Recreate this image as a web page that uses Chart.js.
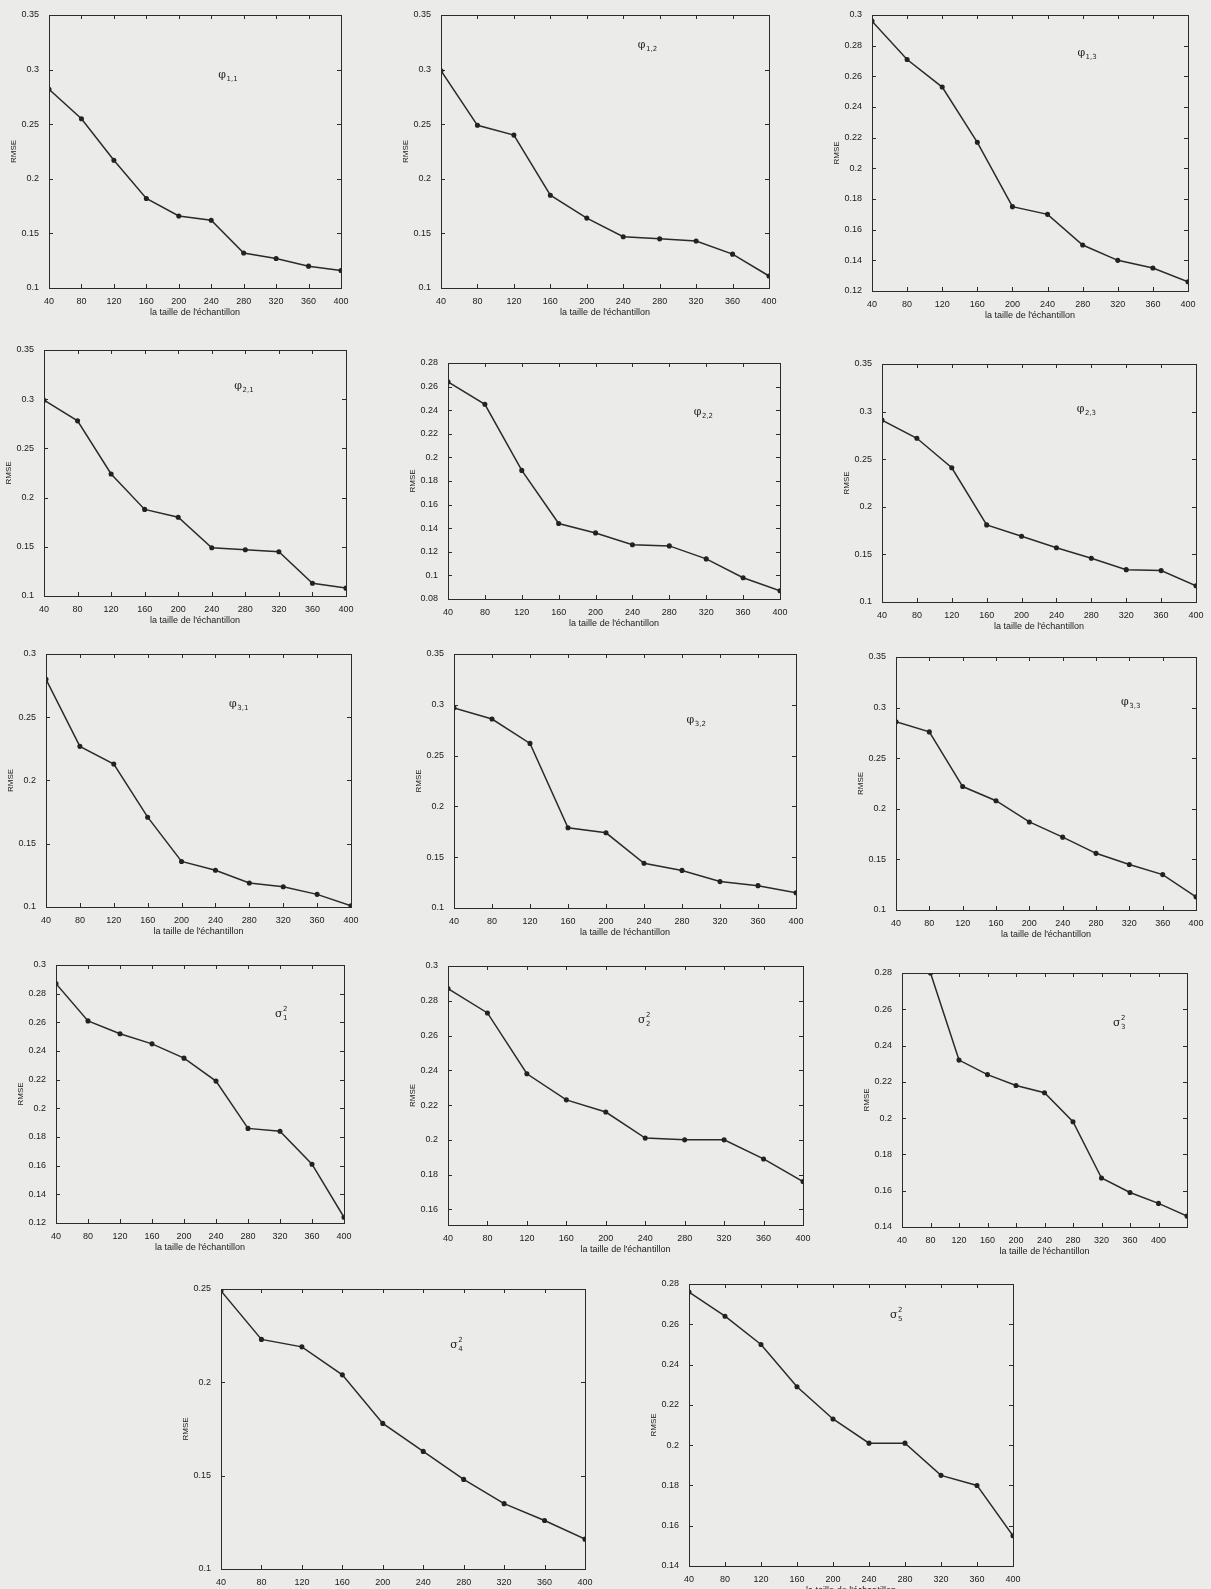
<!DOCTYPE html>
<html>
<head>
<meta charset="utf-8">
<title>RMSE vs taille de l'échantillon</title>
<script src="https://cdn.jsdelivr.net/npm/chart.js@4.4.1/dist/chart.umd.min.js"></script>
<style>
    html, body {
        margin: 0;
        padding: 0;
        width: 1211px;
        height: 1589px;
        overflow: hidden;
        background: #ebebea;
    }
    .panel {
        position: absolute;
    }
</style>
</head>
<body>
<div id="page"></div>
<script>
// sample sizes (x axis)
const sampleSizes = [40, 80, 120, 160, 200, 240, 280, 320, 360, 400];

// RMSE values
const rmsePhi11 = [0.282, 0.255, 0.217, 0.182, 0.166, 0.162, 0.132, 0.127, 0.120, 0.116];
const rmsePhi12 = [0.299, 0.249, 0.240, 0.185, 0.164, 0.147, 0.145, 0.143, 0.131, 0.111];
const rmsePhi13 = [0.296, 0.271, 0.253, 0.217, 0.175, 0.170, 0.150, 0.140, 0.135, 0.126];
const rmsePhi21 = [0.299, 0.278, 0.224, 0.188, 0.180, 0.149, 0.147, 0.145, 0.113, 0.108];
const rmsePhi22 = [0.264, 0.245, 0.189, 0.144, 0.136, 0.126, 0.125, 0.114, 0.098, 0.087];
const rmsePhi23 = [0.291, 0.272, 0.241, 0.181, 0.169, 0.157, 0.146, 0.134, 0.133, 0.117];
const rmsePhi31 = [0.280, 0.227, 0.213, 0.171, 0.136, 0.129, 0.119, 0.116, 0.110, 0.101];
const rmsePhi32 = [0.297, 0.286, 0.262, 0.179, 0.174, 0.144, 0.137, 0.126, 0.122, 0.115];
const rmsePhi33 = [0.286, 0.276, 0.222, 0.208, 0.187, 0.172, 0.156, 0.145, 0.135, 0.113];
const rmseSigma1 = [0.287, 0.261, 0.252, 0.245, 0.235, 0.219, 0.186, 0.184, 0.161, 0.124];
const rmseSigma2 = [0.287, 0.273, 0.238, 0.223, 0.216, 0.201, 0.200, 0.200, 0.189, 0.176];
const rmseSigma3 = [0.280, 0.232, 0.224, 0.218, 0.214, 0.198, 0.167, 0.159, 0.153, 0.146];
const rmseSigma4 = [0.249, 0.223, 0.219, 0.204, 0.178, 0.163, 0.148, 0.135, 0.126, 0.116];
const rmseSigma5 = [0.276, 0.264, 0.250, 0.229, 0.213, 0.201, 0.201, 0.185, 0.180, 0.155];

// y tick labels
const ticks010to035 = [0.1, 0.15, 0.2, 0.25, 0.3, 0.35];
const ticks010to030 = [0.1, 0.15, 0.2, 0.25, 0.3];
const ticks012to030 = [0.12, 0.14, 0.16, 0.18, 0.2, 0.22, 0.24, 0.26, 0.28, 0.3];
const ticks008to028 = [0.08, 0.1, 0.12, 0.14, 0.16, 0.18, 0.2, 0.22, 0.24, 0.26, 0.28];
const ticks016to030 = [0.16, 0.18, 0.2, 0.22, 0.24, 0.26, 0.28, 0.3];
const ticks014to028 = [0.14, 0.16, 0.18, 0.2, 0.22, 0.24, 0.26, 0.28];
const ticks010to025 = [0.1, 0.15, 0.2, 0.25];

// x tick labels (one panel has its labels shifted one step to the left)
const xTickLabels = ['40', '80', '120', '160', '200', '240', '280', '320', '360', '400'];
const shiftedXTickValues = [0, 40, 80, 120, 160, 200, 240, 280, 320, 360];

const X_TITLE = 'la taille de l\'échantillon';
const Y_TITLE = 'RMSE';
const AXIS_LEFT = 40;
const AXIS_BOTTOM = 30;
const PAD = 8;

// box = plot area [left, top, right, bottom], note = label position as fraction of plot area
const panels = [
    { values: rmsePhi11, yTicks: ticks010to035, sym: 'φ', sub: '1,1', box: [49, 15, 341, 288], note: [0.58, 0.23] },
    { values: rmsePhi12, yTicks: ticks010to035, sym: 'φ', sub: '1,2', box: [441, 15, 769, 288], note: [0.60, 0.12] },
    { values: rmsePhi13, yTicks: ticks012to030, sym: 'φ', sub: '1,3', box: [872, 15, 1188, 291], note: [0.65, 0.15] },
    { values: rmsePhi21, yTicks: ticks010to035, sym: 'φ', sub: '2,1', box: [44, 350, 346, 596], note: [0.63, 0.16] },
    { values: rmsePhi22, yTicks: ticks008to028, sym: 'φ', sub: '2,2', box: [448, 363, 780, 599], note: [0.74, 0.22] },
    { values: rmsePhi23, yTicks: ticks010to035, sym: 'φ', sub: '2,3', box: [882, 364, 1196, 602], note: [0.62, 0.20] },
    { values: rmsePhi31, yTicks: ticks010to030, sym: 'φ', sub: '3,1', box: [46, 654, 351, 907], note: [0.60, 0.21] },
    { values: rmsePhi32, yTicks: ticks010to035, sym: 'φ', sub: '3,2', box: [454, 654, 796, 908], note: [0.68, 0.27] },
    { values: rmsePhi33, yTicks: ticks010to035, sym: 'φ', sub: '3,3', box: [896, 657, 1196, 910], note: [0.75, 0.19] },
    { values: rmseSigma1, yTicks: ticks012to030, sym: 'σ', sup: '2', sub: '1', box: [56, 965, 344, 1223], note: [0.76, 0.20] },
    { values: rmseSigma2, yTicks: ticks016to030, yMin: 0.151, sym: 'σ', sup: '2', sub: '2', box: [448, 966, 803, 1225], note: [0.535, 0.22] },
    { values: rmseSigma3, yTicks: ticks014to028, sym: 'σ', sup: '2', sub: '3', box: [902, 973, 1187, 1227], note: [0.74, 0.21],
      xMin: 0, xTickValues: shiftedXTickValues },
    { values: rmseSigma4, yTicks: ticks010to025, sym: 'σ', sup: '2', sub: '4', box: [221, 1289, 585, 1569], note: [0.63, 0.21] },
    { values: rmseSigma5, yTicks: ticks014to028, sym: 'σ', sup: '2', sub: '5', box: [689, 1284, 1013, 1566], note: [0.62, 0.12] }
];

const fmt = v => String(Number(v.toFixed(3)));

// plot frame, inward tick marks on all four sides and the parameter label
const framePlugin = {
    id: 'frame',
    afterDraw(chart, args, opts) {
        const { ctx, chartArea: a, scales } = chart;
        ctx.save();
        ctx.strokeStyle = '#2b2b2b';
        ctx.lineWidth = 1;
        ctx.strokeRect(Math.round(a.left) + 0.5, Math.round(a.top) + 0.5, Math.round(a.width), Math.round(a.height));

        ctx.beginPath();
        scales.x.ticks.forEach(t => {
            const px = Math.round(scales.x.getPixelForValue(t.value)) + 0.5;
            ctx.moveTo(px, a.bottom); ctx.lineTo(px, a.bottom - 4);
            ctx.moveTo(px, a.top); ctx.lineTo(px, a.top + 4);
        });
        scales.y.ticks.forEach(t => {
            const py = Math.round(scales.y.getPixelForValue(t.value)) + 0.5;
            ctx.moveTo(a.left, py); ctx.lineTo(a.left + 4, py);
            ctx.moveTo(a.right, py); ctx.lineTo(a.right - 4, py);
        });
        ctx.stroke();

        // label like φ1,1 or σ²2
        const x = a.left + a.width * opts.note[0];
        const y = a.top + a.height * opts.note[1];
        ctx.fillStyle = '#222';
        ctx.textBaseline = 'alphabetic';
        ctx.font = '11px "DejaVu Serif"';
        ctx.fillText(opts.sym, x, y);
        const w = ctx.measureText(opts.sym).width;
        ctx.font = '7px "DejaVu Sans"';
        if (opts.sup) ctx.fillText(opts.sup, x + w + 0.5, y - 6);
        if (opts.sub) ctx.fillText(opts.sub, x + w + 0.5, y + 3);
        ctx.restore();
    }
};

function buildPanel(p) {
    const [l, t, r, b] = p.box;
    const width = (r - l) + AXIS_LEFT + PAD;
    const height = (b - t) + PAD + AXIS_BOTTOM;

    const wrap = document.createElement('div');
    wrap.className = 'panel';
    wrap.style.left = (l - AXIS_LEFT) + 'px';
    wrap.style.top = (t - PAD) + 'px';
    const canvas = document.createElement('canvas');
    canvas.width = width;
    canvas.height = height;
    canvas.style.width = width + 'px';
    canvas.style.height = height + 'px';
    wrap.appendChild(canvas);
    document.getElementById('page').appendChild(wrap);

    const xVals = p.xTickValues || sampleSizes;
    const tickFont = { family: '"Liberation Sans", Arial, sans-serif', size: 9 };

    new Chart(canvas.getContext('2d'), {
        type: 'line',
        data: {
            datasets: [{
                data: sampleSizes.map((x, i) => ({ x: x, y: p.values[i] })),
                borderColor: '#2a2a2a',
                borderWidth: 1.5,
                pointRadius: 1.8,
                pointBackgroundColor: '#222',
                pointBorderColor: '#222',
                tension: 0
            }]
        },
        options: {
            responsive: false,
            animation: false,
            layout: { padding: { top: PAD, right: PAD, left: 0, bottom: 0 } },
            plugins: {
                legend: { display: false },
                tooltip: { enabled: false },
                frame: { note: p.note, sym: p.sym, sub: p.sub, sup: p.sup }
            },
            scales: {
                x: {
                    type: 'linear',
                    min: p.xMin !== undefined ? p.xMin : sampleSizes[0],
                    max: sampleSizes[sampleSizes.length - 1],
                    grid: { display: false },
                    border: { display: false },
                    afterBuildTicks: axis => { axis.ticks = xVals.map(v => ({ value: v })); },
                    afterFit: axis => { axis.height = AXIS_BOTTOM; },
                    ticks: {
                        autoSkip: false,
                        maxRotation: 0,
                        padding: 0,
                        color: '#1a1a1a',
                        font: tickFont,
                        callback: (v, i) => xTickLabels[i]
                    },
                    title: {
                        display: true,
                        text: X_TITLE,
                        color: '#1a1a1a',
                        font: tickFont,
                        padding: { top: 6, bottom: 0 }
                    }
                },
                y: {
                    min: p.yMin !== undefined ? p.yMin : p.yTicks[0],
                    max: p.yTicks[p.yTicks.length - 1],
                    grid: { display: false },
                    border: { display: false },
                    afterBuildTicks: axis => { axis.ticks = p.yTicks.map(v => ({ value: v })); },
                    afterFit: axis => { axis.width = AXIS_LEFT; },
                    ticks: {
                        padding: 2,
                        color: '#1a1a1a',
                        font: tickFont,
                        callback: v => fmt(v)
                    },
                    title: {
                        display: true,
                        text: Y_TITLE,
                        color: '#1a1a1a',
                        font: { family: '"Liberation Sans", Arial, sans-serif', size: 8 },
                        padding: 0
                    }
                }
            }
        },
        plugins: [framePlugin]
    });
}

document.addEventListener('DOMContentLoaded', () => {
    panels.forEach(buildPanel);
});
</script>
</body>
</html>
